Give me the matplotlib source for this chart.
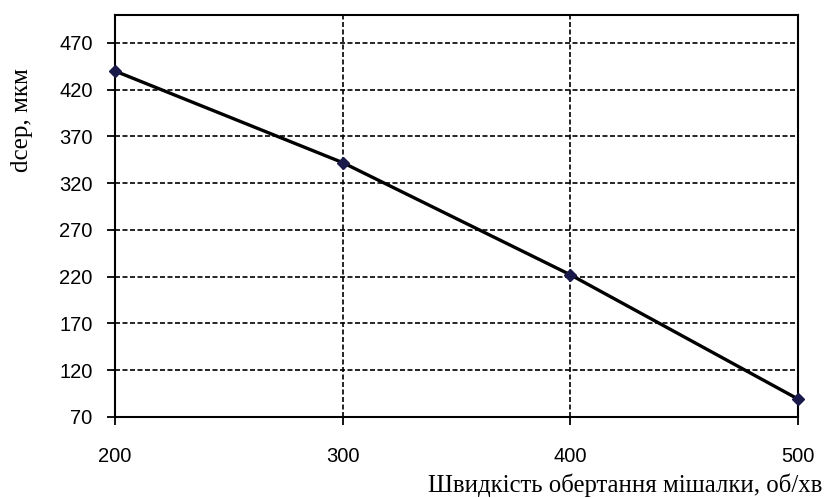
import matplotlib.pyplot as plt
import numpy as np

# speed of the stirrer (rpm) and mean drop size (um)
speed = [200, 300, 400, 500]
d_mean = [440, 342, 222, 89]

y_ticks = [70, 120, 170, 220, 270, 320, 370, 420, 470]
x_ticks = [200, 300, 400, 500]

fig = plt.figure(figsize=(8.27, 4.98), dpi=100)
ax = fig.add_axes([0.139, 0.163, 0.826, 0.807])

ax.plot(speed, d_mean, color='black', linewidth=2.4, marker='D',
        markersize=6, markerfacecolor='#1a1a4a', markeredgecolor='#1a1a4a',
        clip_on=False, zorder=3)

ax.set_xlim(200, 500)
ax.set_ylim(70, 500)
ax.set_xticks(x_ticks)
ax.set_yticks(y_ticks)
ax.grid(True, color='black', linestyle=(0, (3, 1.5)), linewidth=1.2)
ax.set_axisbelow(True)

for s in ax.spines.values():
    s.set_linewidth(1.5)
    s.set_color('black')

ax.tick_params(axis='both', direction='out', length=6, width=1.3,
               labelsize=14.5, labelfontfamily='Liberation Sans')
ax.tick_params(axis='x', pad=16)
ax.tick_params(axis='y', pad=10)

fig.text(0.994, 0.026, 'Швидкість обертання мішалки, об/хв',
         family='Liberation Serif', fontsize=17.8, ha='right', va='center')
fig.text(0.027, 0.759, 'dcep, мкм', family='Liberation Serif', fontsize=18,
         rotation=90, ha='center', va='center')

fig.savefig('out.png', dpi=100)
